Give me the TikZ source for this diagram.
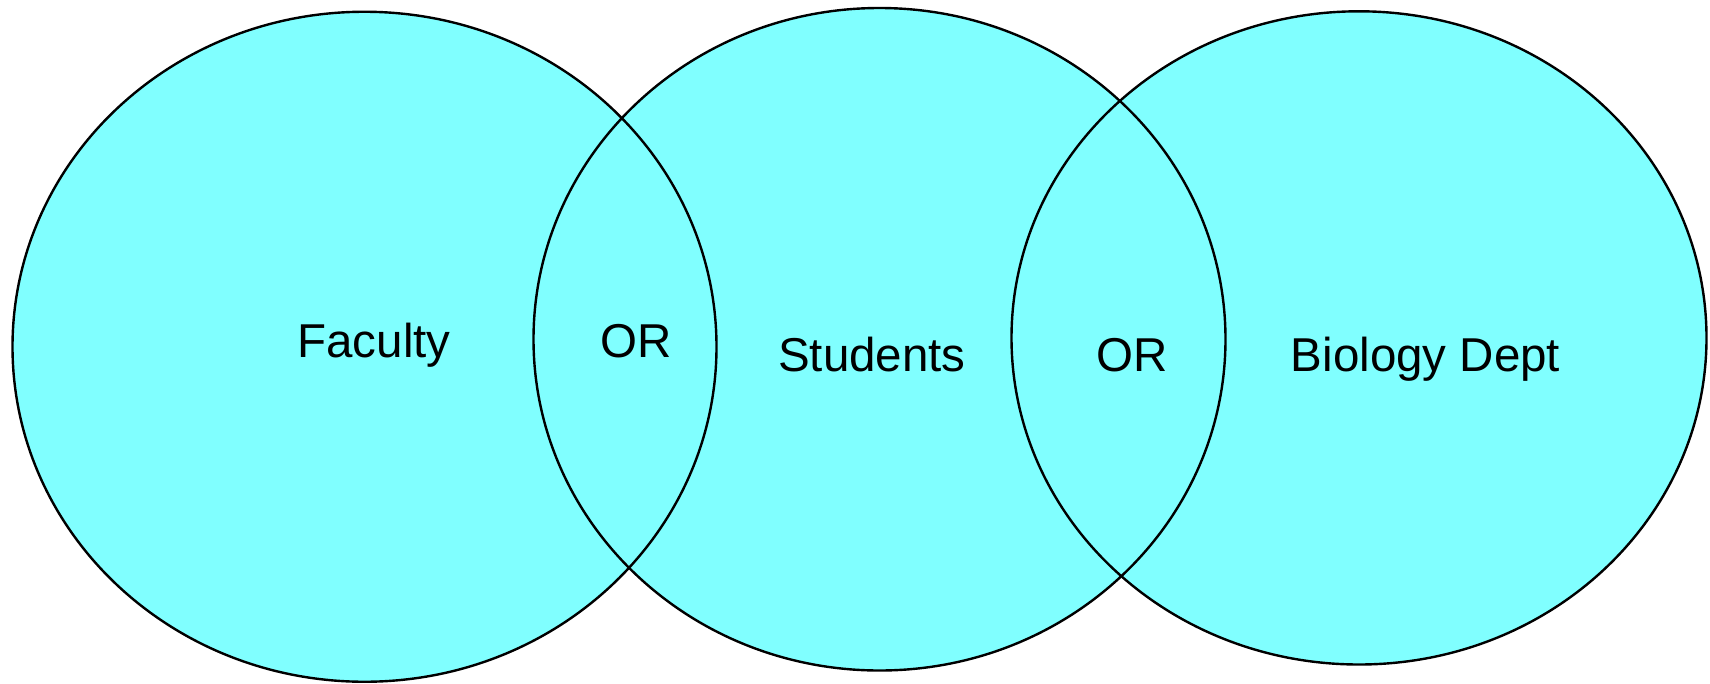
\documentclass[tikz,border=0pt]{standalone}
\usepackage{fontspec}
\setmainfont{Liberation Sans}
\definecolor{vennfill}{HTML}{80FFFF}
\tikzset{
  setfill/.style={fill=vennfill, draw=none},
  setline/.style={draw=black, line width=2.4pt},
  lbl/.style={anchor=base, inner sep=0pt, font=\fontsize{47.5}{51}\selectfont}
}
\begin{document}
\begin{tikzpicture}[x=1pt,y=-1pt]
\useasboundingbox (0,0) rectangle (1710,683);
% fills
\path[setfill] (364.5,346.75) ellipse [x radius=352, y radius=335];
\path[setfill] (879.5,339.25) ellipse [x radius=346, y radius=331.25];
\path[setfill] (1359,337.9) ellipse [x radius=347.5, y radius=326.6];
% outlines
\path[setline] (364.5,346.75) ellipse [x radius=352, y radius=335];
\path[setline] (879.5,339.25) ellipse [x radius=346, y radius=331.25];
\path[setline] (1359,337.9) ellipse [x radius=347.5, y radius=326.6];
% labels
\node[lbl] (fac) at (374,357) {Faculty};
\node[lbl] (or1) at (636.5,357) {OR};
\node[lbl] (stu) at (872,371.5) {Students};
\node[lbl] (or2) at (1132,371.5) {OR};
\node[lbl] (bio) at (1425.5,371.5) {Biology Dept};
\end{tikzpicture}
\end{document}
